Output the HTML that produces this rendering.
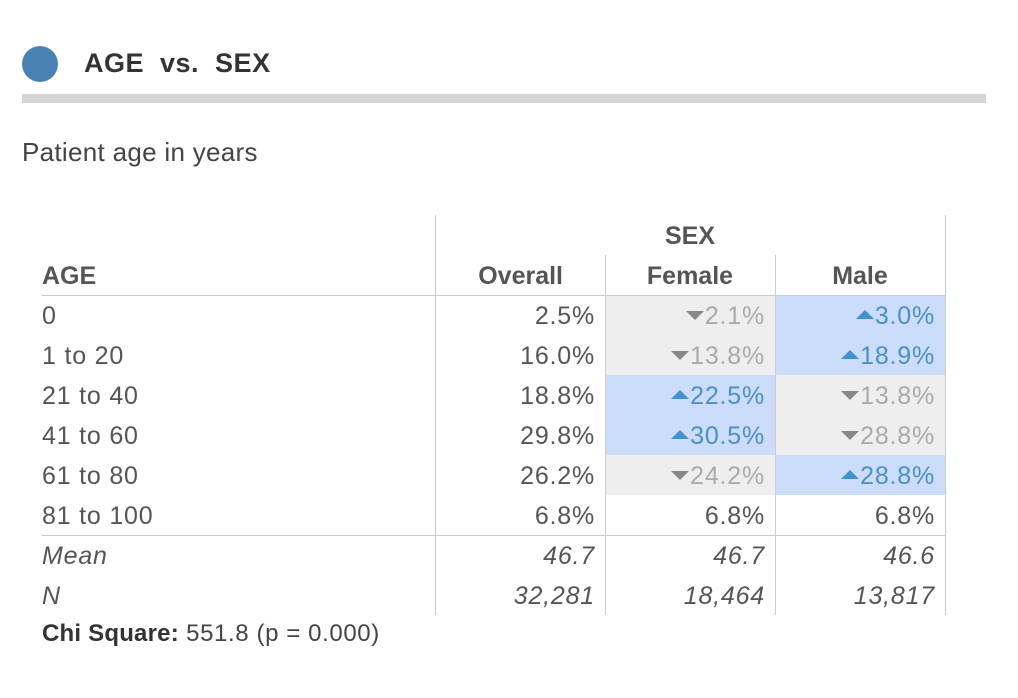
<!DOCTYPE html>
<html><head><meta charset="utf-8"><style>
body{margin:0;width:1018px;height:698px;background:#fff;font-family:"Liberation Sans",sans-serif;position:relative;overflow:hidden}
.a{position:absolute;white-space:nowrap}
.t{font-size:25px;color:#555;line-height:42px;height:40px;letter-spacing:0.8px}
.r{text-align:right}
.h{font-weight:bold;color:#555;font-size:25px}
.vl{position:absolute;width:1px;background:#ccc}
.hl{position:absolute;height:1px;background:#ccc}
.g{background:#eeeeee;color:#aaa}
.b{background:#ccdcfb;color:#4a90c8}
.dn::before{content:"";display:inline-block;border-left:9px solid transparent;border-right:9px solid transparent;border-top:9px solid #888;margin-right:1px;vertical-align:4px}
.up::before{content:"";display:inline-block;border-left:9px solid transparent;border-right:9px solid transparent;border-bottom:9px solid #3f92d2;margin-right:1px;vertical-align:5px}
i{font-style:italic}
</style></head><body>
<div class="a" style="left:22px;top:46px;width:36px;height:36px;border-radius:50%;background:#4a82b5"></div>
<div class="a" style="left:84px;top:46px;font-size:27px;font-weight:bold;color:#333;line-height:34px;word-spacing:8px;letter-spacing:0.5px">AGE vs. SEX</div>
<div class="a" style="left:22px;top:94px;width:964px;height:9px;background:#d4d4d4"></div>
<div class="a" style="left:22px;top:137px;font-size:26px;color:#444;line-height:30px;letter-spacing:0.3px">Patient age in years</div>

<div class="a g" style="left:606px;top:296px;width:169px;height:79px"></div>
<div class="a b" style="left:776px;top:296px;width:169px;height:79px"></div>
<div class="a b" style="left:606px;top:375px;width:169px;height:80px"></div>
<div class="a g" style="left:776px;top:375px;width:169px;height:80px"></div>
<div class="a g" style="left:606px;top:455px;width:169px;height:40px"></div>
<div class="a b" style="left:776px;top:455px;width:169px;height:40px"></div>

<div class="vl" style="left:435px;top:215px;height:400px"></div>
<div class="vl" style="left:605px;top:255px;height:360px"></div>
<div class="vl" style="left:775px;top:255px;height:360px"></div>
<div class="vl" style="left:945px;top:215px;height:400px"></div>
<div class="hl" style="left:42px;top:295px;width:903px"></div>
<div class="hl" style="left:42px;top:535px;width:903px"></div>

<div class="a h" style="left:435px;width:510px;text-align:center;top:219px;line-height:34px">SEX</div>
<div class="a h" style="left:42px;top:259px;line-height:34px">AGE</div>
<div class="a h r" style="left:435px;width:128px;top:259px;line-height:34px">Overall</div>
<div class="a h" style="left:605px;width:170px;text-align:center;top:259px;line-height:34px">Female</div>
<div class="a h" style="left:775px;width:170px;text-align:center;top:259px;line-height:34px">Male</div>

<div style="position:absolute;left:0;top:295px">
<div class="a t" style="left:42px;top:0">0</div>
<div class="a t" style="left:42px;top:40px">1 to 20</div>
<div class="a t" style="left:42px;top:80px">21 to 40</div>
<div class="a t" style="left:42px;top:120px">41 to 60</div>
<div class="a t" style="left:42px;top:160px">61 to 80</div>
<div class="a t" style="left:42px;top:200px">81 to 100</div>
<div class="a t" style="left:42px;top:240px"><i>Mean</i></div>
<div class="a t" style="left:42px;top:280px"><i>N</i></div>

<div class="a t r" style="left:435px;width:160px;top:0">2.5%</div>
<div class="a t r" style="left:435px;width:160px;top:40px">16.0%</div>
<div class="a t r" style="left:435px;width:160px;top:80px">18.8%</div>
<div class="a t r" style="left:435px;width:160px;top:120px">29.8%</div>
<div class="a t r" style="left:435px;width:160px;top:160px">26.2%</div>
<div class="a t r" style="left:435px;width:160px;top:200px">6.8%</div>
<div class="a t r" style="left:435px;width:160px;top:240px"><i>46.7</i></div>
<div class="a t r" style="left:435px;width:160px;top:280px"><i>32,281</i></div>

<div class="a t r dn" style="left:605px;width:160px;top:0;color:#aaa">2.1%</div>
<div class="a t r dn" style="left:605px;width:160px;top:40px;color:#aaa">13.8%</div>
<div class="a t r up" style="left:605px;width:160px;top:80px;color:#4a90c8">22.5%</div>
<div class="a t r up" style="left:605px;width:160px;top:120px;color:#4a90c8">30.5%</div>
<div class="a t r dn" style="left:605px;width:160px;top:160px;color:#aaa">24.2%</div>
<div class="a t r" style="left:605px;width:160px;top:200px">6.8%</div>
<div class="a t r" style="left:605px;width:160px;top:240px"><i>46.7</i></div>
<div class="a t r" style="left:605px;width:160px;top:280px"><i>18,464</i></div>

<div class="a t r up" style="left:775px;width:160px;top:0;color:#4a90c8">3.0%</div>
<div class="a t r up" style="left:775px;width:160px;top:40px;color:#4a90c8">18.9%</div>
<div class="a t r dn" style="left:775px;width:160px;top:80px;color:#aaa">13.8%</div>
<div class="a t r dn" style="left:775px;width:160px;top:120px;color:#aaa">28.8%</div>
<div class="a t r up" style="left:775px;width:160px;top:160px;color:#4a90c8">28.8%</div>
<div class="a t r" style="left:775px;width:160px;top:200px">6.8%</div>
<div class="a t r" style="left:775px;width:160px;top:240px"><i>46.6</i></div>
<div class="a t r" style="left:775px;width:160px;top:280px"><i>13,817</i></div>
</div>

<div class="a" style="left:42px;top:619px;font-size:24px;color:#444;line-height:30px;letter-spacing:0.6px"><b style="color:#333;letter-spacing:0.2px">Chi Square:</b> 551.8 (p = 0.000)</div>
</body></html>
